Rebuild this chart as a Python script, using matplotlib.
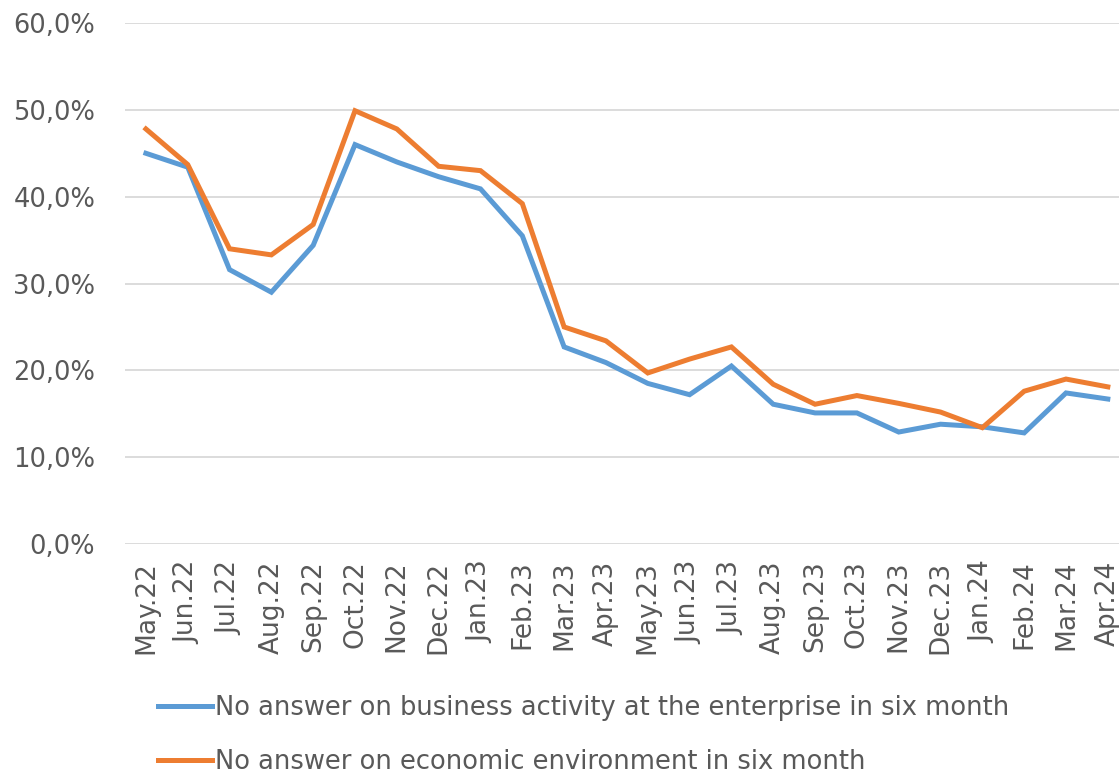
import matplotlib
matplotlib.use("Agg")
import matplotlib.pyplot as plt
from matplotlib.ticker import FuncFormatter

months = ["May.22", "Jun.22", "Jul.22", "Aug.22", "Sep.22", "Oct.22", "Nov.22", "Dec.22",
          "Jan.23", "Feb.23", "Mar.23", "Apr.23", "May.23", "Jun.23", "Jul.23", "Aug.23",
          "Sep.23", "Oct.23", "Nov.23", "Dec.23", "Jan.24", "Feb.24", "Mar.24", "Apr.24"]

business = [45.0, 43.4, 31.6, 29.0, 34.4, 46.0, 44.0, 42.3, 40.9, 35.5, 22.7, 20.9,
            18.5, 17.2, 20.5, 16.1, 15.1, 15.1, 12.9, 13.8, 13.5, 12.8, 17.4, 16.7]
economic = [47.8, 43.7, 34.0, 33.3, 36.8, 49.9, 47.8, 43.5, 43.0, 39.2, 25.0, 23.4,
            19.7, 21.3, 22.7, 18.4, 16.1, 17.1, 16.2, 15.2, 13.4, 17.6, 19.0, 18.1]

label_b = "No answer on business activity at the enterprise in six month"
label_e = "No answer on economic environment in six month"

fig = plt.figure(figsize=(11.19, 7.75), dpi=100)
ax = fig.add_axes([0.1117, 0.298, 0.897, 0.6723])

x = list(range(len(months)))
ax.plot(x, [v / 100 for v in business], color="#5B9BD5", lw=3.6, label=label_b,
        solid_joinstyle="miter")
ax.plot(x, [v / 100 for v in economic], color="#ED7D31", lw=3.6, label=label_e,
        solid_joinstyle="miter")

ax.set_xlim(-0.5, len(months) - 0.5)
ax.set_ylim(0, 0.6)
ax.set_yticks([i / 10 for i in range(7)])
ax.yaxis.set_major_formatter(FuncFormatter(lambda v, p: f"{v * 100:.1f}%".replace(".", ",")))
ax.set_xticks(x)
ax.set_xticklabels(months, rotation=90)
ax.tick_params(length=0, labelsize=18.5, colors="#595959")
ax.tick_params(axis="y", pad=21.5)
ax.tick_params(axis="x", pad=12, labelsize=19)
ax.grid(axis="y", color="#D9D9D9", lw=1.3)
ax.set_axisbelow(True)
for s in ax.spines.values():
    s.set_visible(False)

fig.legend(loc="upper left", bbox_to_anchor=(0.141, 0.103), frameon=False,
           prop={"size": 18.5},
           handlelength=2.1, handletextpad=0.12, labelspacing=1.1, labelcolor="#595959",
           borderaxespad=0, borderpad=0)

fig.savefig("out.png", dpi=100)
